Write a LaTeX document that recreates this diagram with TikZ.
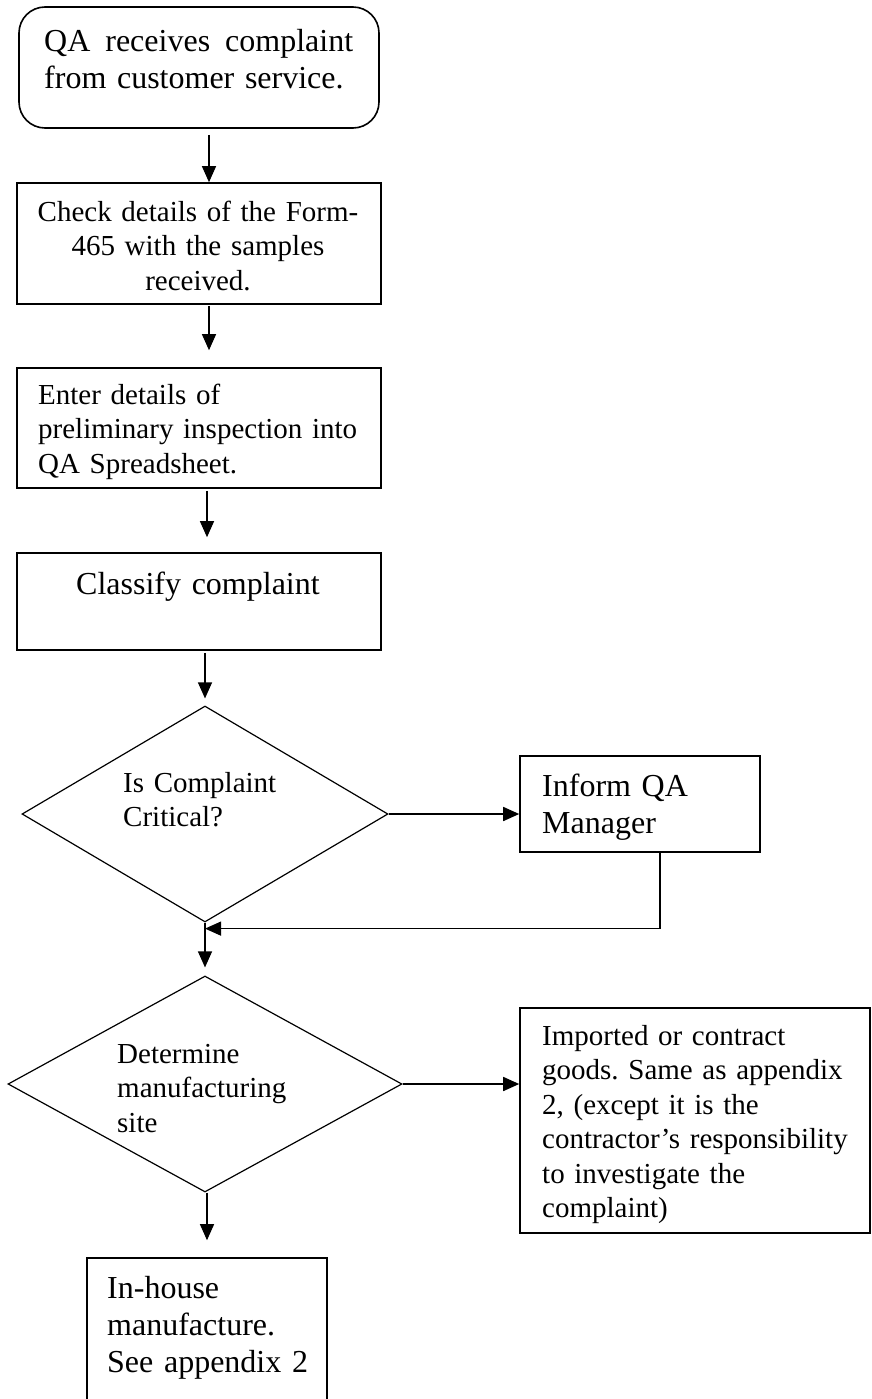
\documentclass[tikz,border=0pt]{standalone}
\usepackage{fontspec}
\setmainfont{Liberation Serif}
\usetikzlibrary{shapes.geometric,arrows.meta}
\frenchspacing
\tikzset{
  boxnode/.style={draw, line width=1.6pt, inner sep=0pt},
  dianode/.style={draw, diamond, line width=1.2pt, inner sep=0pt},
  arr/.style={line width=1.2pt, -{Triangle[length=16pt,width=14pt]}},
  txtA/.style={inner sep=0pt, font=\fontsize{29pt}{34.5pt}\selectfont\frenchspacing},
  txtB/.style={inner sep=0pt, font=\fontsize{32pt}{37pt}\selectfont\frenchspacing},
}
\begin{document}
\begin{tikzpicture}[x=1pt,y=-1pt]
\useasboundingbox (0,0) rectangle (872,1399);
\fill[white] (0,0) rectangle (872,1399);
\clip (0,0) rectangle (872,1399);

% boxes
\node[boxnode, rounded corners=26pt, minimum width=360pt, minimum height=121pt] (b1) at (199,67.5) {};
\node[boxnode, minimum width=364pt, minimum height=121pt] (b2) at (199,243.5) {};
\node[boxnode, minimum width=364pt, minimum height=120pt] (b3) at (199,428) {};
\node[boxnode, minimum width=364pt, minimum height=97pt] (b4) at (199,601.5) {};
\node[dianode, minimum width=366pt, minimum height=216pt] (d1) at (205,814) {};
\node[boxnode, minimum width=240pt, minimum height=96pt] (b5) at (640,804) {};
\node[dianode, minimum width=394pt, minimum height=216pt] (d2) at (205,1084) {};
\node[boxnode, minimum width=350pt, minimum height=225pt] (b6) at (695,1120.5) {};
\node[boxnode, minimum width=240pt, minimum height=162pt] (b7) at (207,1339) {};

% texts
\node[txtB, anchor=base west, text width=309pt, align=left] (t1) at (44,52)
  {QA\hfill receives\hfill complaint\\from customer service.};
\node[txtA, anchor=base, text width=350pt, align=center] (t2) at (198,221)
  {Check details of the Form-\\465 with the samples\\received.};
\node[txtA, anchor=base west, text width=340pt, align=left] (t3) at (38,404)
  {Enter details of\\preliminary inspection into\\QA Spreadsheet.};
\node[txtB, anchor=base, text width=350pt, align=center] (t4) at (198,594)
  {Classify complaint};
\node[txtA, anchor=base west, text width=200pt, align=left] (t5) at (123,792)
  {Is Complaint\\Critical?};
\node[txtB, anchor=base west, text width=210pt, align=left] (t6) at (542,796)
  {Inform QA\\Manager};
\node[txtA, anchor=base west, text width=220pt, align=left] (t7) at (117,1063)
  {Determine\\manufacturing\\site};
\node[txtA, anchor=base west, text width=325pt, align=left] (t8) at (542,1045)
  {Imported or contract\\goods. Same as appendix\\2, (except it is the\\contractor’s responsibility\\to investigate the\\complaint)};
\node[txtB, anchor=base west, text width=215pt, align=left] (t9) at (107,1298)
  {In-house\\manufacture.\\See appendix 2};

% connectors
\draw[arr] ([xshift=10pt,yshift=-6pt]b1.south) -- ([xshift=10pt]b2.north);
\draw[arr] ([xshift=10pt,yshift=-1pt]b2.south) -- ([xshift=10pt,yshift=17pt]b3.north);
\draw[arr] ([xshift=8pt,yshift=-2pt]b3.south) -- ([xshift=8pt,yshift=15pt]b4.north);
\draw[arr] ([xshift=6pt,yshift=-2pt]b4.south) -- ([yshift=7pt]d1.north);
\draw[arr, line width=1.6pt] (d1.east) -- (d1.east -| b5.west);
\draw[arr] ([xshift=20pt]b5.south) |- ([yshift=-6pt]d1.south);
\draw[arr] (d1.south) -- ([yshift=8pt]d2.north);
\draw[arr, line width=1.6pt] (d2.east) -- (d2.east -| b6.west);
\draw[arr] ([xshift=2pt]d2.south) -- ([yshift=17pt]b7.north);
\end{tikzpicture}
\end{document}
